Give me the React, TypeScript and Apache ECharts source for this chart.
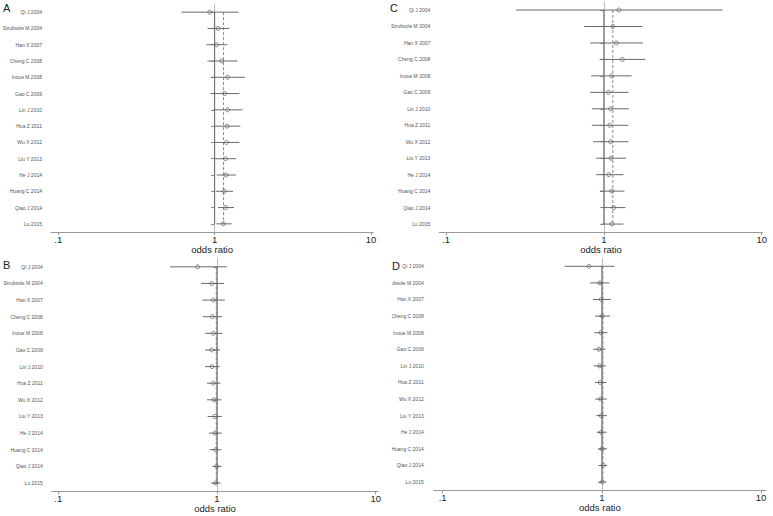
import React, { useEffect, useRef } from "react";
import * as echarts from "echarts";

const studies = [
  "Qi J 2004", "Strubsole M 2004", "Han X 2007", "Cheng C 2008", "Inoue M 2008",
  "Gao C 2009", "Lin J 2010", "Hua Z 2011", "Wu X 2012", "Liu Y 2013",
  "He J 2014", "Huang C 2014", "Qiao J 2014", "Lu 2015",
];
const tickValues = [0.1, 1, 10];
const tickLabels = [".1", "1", "10"];
const axisName = "odds ratio";

// Panel A
const orA = [0.93, 1.05, 1.03, 1.11, 1.21, 1.16, 1.21, 1.2, 1.19, 1.175, 1.18, 1.15, 1.175, 1.135];
const loA = [0.615, 0.9, 0.885, 0.9, 0.95, 0.94, 0.98, 0.985, 0.995, 1.005, 1.03, 1.015, 1.05, 1.025];
const hiA = [1.42, 1.24, 1.205, 1.4, 1.56, 1.44, 1.51, 1.46, 1.44, 1.375, 1.37, 1.31, 1.33, 1.285];
const pooledA = 1.14;

// Panel B
const orB = [0.755, 0.926, 0.948, 0.935, 0.948, 0.926, 0.93, 0.948, 0.957, 0.967, 0.971, 0.981, 0.995, 0.981];
const loB = [0.506, 0.793, 0.808, 0.816, 0.844, 0.84, 0.84, 0.865, 0.865, 0.873, 0.89, 0.9, 0.935, 0.917];
const hiB = [1.15, 1.107, 1.12, 1.075, 1.085, 1.045, 1.04, 1.05, 1.065, 1.07, 1.07, 1.065, 1.07, 1.055];
const pooledB = 0.99;

// Panel C
const orC = [1.245, 1.14, 1.2, 1.31, 1.12, 1.07, 1.1, 1.09, 1.1, 1.11, 1.075, 1.124, 1.157, 1.124];
const loC = [0.277, 0.75, 0.82, 0.94, 0.83, 0.82, 0.84, 0.84, 0.855, 0.894, 0.894, 0.943, 0.98, 0.967];
const hiC = [5.65, 1.75, 1.77, 1.83, 1.5, 1.43, 1.44, 1.43, 1.43, 1.385, 1.33, 1.35, 1.37, 1.33];
const pooledC = 1.14;

// Panel D
const orD = [0.829, 0.971, 0.99, 1.005, 0.986, 0.958, 0.967, 0.976, 0.98, 0.99, 0.99, 1.005, 1.02, 1.005];
const loD = [0.583, 0.845, 0.878, 0.904, 0.895, 0.882, 0.886, 0.904, 0.908, 0.921, 0.926, 0.948, 0.967, 0.953];
const hiD = [1.2, 1.117, 1.139, 1.128, 1.085, 1.054, 1.06, 1.07, 1.075, 1.075, 1.07, 1.075, 1.08, 1.07];
const pooledD = 1.015;

type PanelCfg = {
  letter: string;
  or: number[]; lo: number[]; hi: number[]; pooled: number;
  box: { left: number; top: number; width: number; height: number };
  grid: { left: number; right: number; top: number; bottom: number };
  xmin: number; xmax: number;
  letterPos: { left: number; top: number };
  labelSize: number; labelMargin: number;
};

const panels: PanelCfg[] = [
  {
    letter: "A", or: orA, lo: loA, hi: hiA, pooled: pooledA,
    box: { left: 0, top: 0, width: 386, height: 258 },
    grid: { left: 51, right: 12.7, top: 4, bottom: 26 },
    xmin: -1.0467, xmax: 1.0147, letterPos: { left: 3, top: 2 },
    labelSize: 5, labelMargin: 9,
  },
  {
    letter: "B", or: orB, lo: loB, hi: hiB, pooled: pooledB,
    box: { left: 0, top: 258, width: 386, height: 258 },
    grid: { left: 51.7, right: 7.7, top: 0.5, bottom: 24.7 },
    xmin: -1.0416, xmax: 1.0164, letterPos: { left: 3, top: 1 },
    labelSize: 5, labelMargin: 9,
  },
  {
    letter: "C", or: orC, lo: loC, hi: hiC, pooled: pooledC,
    box: { left: 386, top: 0, width: 387, height: 258 },
    grid: { left: 53.3, right: 10.3, top: 1.8, bottom: 25.7 },
    xmin: -1.0425, xmax: 1.0063, letterPos: { left: 4, top: 2 },
    labelSize: 5, labelMargin: 9,
  },
  {
    letter: "D", or: orD, lo: loD, hi: hiD, pooled: pooledD,
    box: { left: 392, top: 258, width: 381, height: 258 },
    grid: { left: 41.7, right: 7, top: 0, bottom: 25.7 },
    xmin: -1.0565, xmax: 1.031, letterPos: { left: 0, top: 2 },
    labelSize: 5, labelMargin: 10,
  },
];

const FONT = "Arial, 'Liberation Sans', sans-serif";

function buildOption(p: PanelCfg): any {
  const lg = (v: number) => Math.log10(v);
  const tickLog = tickValues.map(lg);
  const ciData = studies.map((_, i) => [lg(p.lo[i]), lg(p.or[i]), lg(p.hi[i]), i]);
  const last = studies.length - 1;
  const refData = [
    [lg(1), 0, last, 0],
    [lg(p.pooled), 0, last, 1],
  ];
  return {
    animation: false,
    backgroundColor: "#ffffff",
    title: {
      text: p.letter,
      left: p.letterPos.left,
      top: p.letterPos.top,
      padding: 0,
      textStyle: { fontSize: 11, fontWeight: "normal", color: "#222", fontFamily: FONT },
    },
    grid: { ...p.grid, containLabel: false, outerBoundsMode: "none" },
    xAxis: {
      type: "value",
      min: p.xmin,
      max: p.xmax,
      name: axisName,
      nameLocation: "middle",
      nameGap: 13,
      nameMoveOverlap: false,
      nameTextStyle: { fontSize: 9.5, lineHeight: 9, color: "#222", fontFamily: FONT },
      axisLine: { show: true, lineStyle: { color: "#999", width: 1 } },
      axisTick: { show: true, length: 3, customValues: tickLog, lineStyle: { color: "#999" } },
      axisLabel: {
        customValues: tickLog,
        margin: 3,
        fontSize: 9.5,
        lineHeight: 9,
        color: "#222",
        fontFamily: FONT,
        formatter: (v: number) => {
          const idx = tickLog.findIndex((t) => Math.abs(t - v) < 1e-6);
          return idx >= 0 ? tickLabels[idx] : "";
        },
      },
      splitLine: { show: false },
    },
    yAxis: {
      type: "category",
      data: studies,
      inverse: true,
      axisLine: { show: true, lineStyle: { color: "#bbb", width: 1 } },
      axisTick: { show: true, alignWithLabel: true, length: 3.5, lineStyle: { color: "#888" } },
      axisLabel: { fontSize: p.labelSize, color: "#555", margin: p.labelMargin, fontFamily: FONT },
      splitLine: { show: false },
    },
    series: [
      {
        type: "custom",
        silent: true,
        data: refData,
        encode: { x: 0, y: [1, 2] },
        renderItem: (_params: any, api: any) => {
          const x = api.value(0);
          const a = api.coord([x, api.value(1)]);
          const b = api.coord([x, api.value(2)]);
          const dashed = api.value(3) === 1;
          return {
            type: "line",
            shape: { x1: a[0], y1: a[1], x2: b[0], y2: b[1] },
            style: {
              stroke: dashed ? "#888" : "#666",
              lineWidth: 1,
              lineDash: dashed ? [3, 2] : null,
            },
          };
        },
        z: 1,
      },
      {
        type: "custom",
        silent: true,
        data: ciData,
        encode: { x: [0, 1, 2], y: 3 },
        renderItem: (_params: any, api: any) => {
          const row = api.value(3);
          const lo = api.coord([api.value(0), row]);
          const hi = api.coord([api.value(2), row]);
          const pt = api.coord([api.value(1), row]);
          return {
            type: "group",
            children: [
              {
                type: "line",
                shape: { x1: lo[0], y1: lo[1], x2: hi[0], y2: hi[1] },
                style: { stroke: "#6a6a6a", lineWidth: 1 },
              },
              {
                type: "circle",
                shape: { cx: pt[0], cy: pt[1], r: 2 },
                style: { fill: "none", stroke: "#666", lineWidth: 0.8 },
              },
            ],
          };
        },
        z: 2,
      },
    ],
  };
}

function Panel({ cfg }: { cfg: PanelCfg }) {
  const ref = useRef<HTMLDivElement>(null);
  useEffect(() => {
    if (!ref.current) return;
    const chart = echarts.init(ref.current, null, { renderer: "svg" });
    chart.setOption(buildOption(cfg));
    return () => chart.dispose();
  }, [cfg]);
  return (
    <div
      ref={ref}
      style={{
        position: "absolute",
        left: cfg.box.left,
        top: cfg.box.top,
        width: cfg.box.width,
        height: cfg.box.height,
        overflow: "hidden",
      }}
    />
  );
}

export default function App() {
  return (
    <div
      style={{
        position: "absolute",
        left: 0,
        top: 0,
        width: 773,
        height: 516,
        background: "#ffffff",
        overflow: "hidden",
      }}
    >
      {panels.map((p) => (
        <Panel key={p.letter} cfg={p} />
      ))}
    </div>
  );
}
